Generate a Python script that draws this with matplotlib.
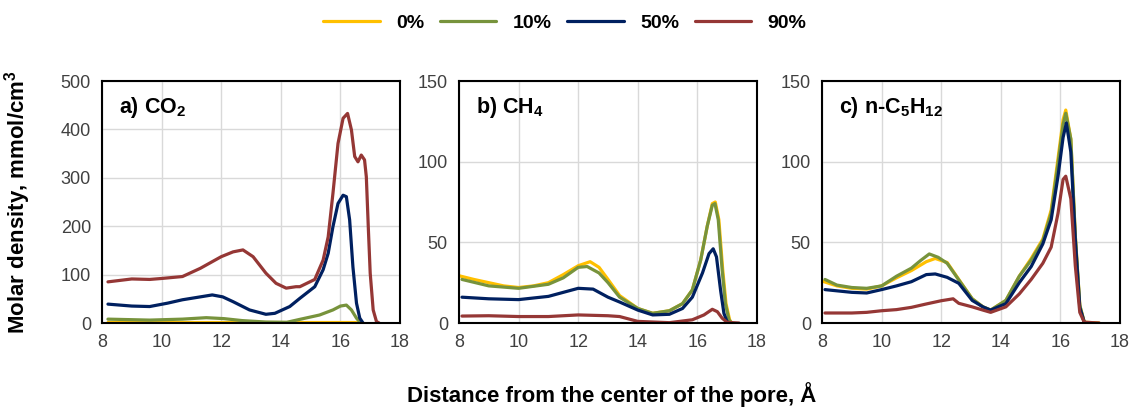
import numpy as np
import matplotlib
matplotlib.use("Agg")
import matplotlib.pyplot as plt

plt.rcParams['font.family'] = ['Liberation Sans', 'DejaVu Sans']
plt.rcParams['mathtext.fontset'] = 'custom'
plt.rcParams['mathtext.rm'] = 'Liberation Sans:bold'
plt.rcParams['mathtext.bf'] = 'Liberation Sans:bold'

# series labels and colours
labels = ['0%', '10%', '50%', '90%']
colors = ['#FFC000', '#77933C', '#002060', '#953735']

# a) CO2 density profiles (x in Angstrom, y in mmol/cm3)
co2_x0 = [8.2, 9, 10, 11, 12, 13, 14, 15, 15.5, 16, 16.3, 16.5, 16.6]
co2_y0 = [1, 1, 1, 1, 1, 1, 1, 1, 1, 1, 1, 1, 0]
co2_x10 = [8.2, 9.6, 10.7, 11.5, 12.1, 12.7, 13.5, 14.2, 14.6, 15.3, 15.75, 16.0, 16.2,
           16.37, 16.54, 16.68]
co2_y10 = [8, 6, 8, 11, 9, 5, 2, 1.4, 7, 16.5, 27, 35, 37, 27, 10, 0]
co2_x50 = [8.2, 9.0, 9.6, 10.2, 10.7, 11.3, 11.7, 12.05, 12.4, 12.95, 13.5, 13.8, 14.3,
           14.64, 15.14, 15.42, 15.59, 15.75, 15.92, 16.09, 16.2, 16.31, 16.42, 16.54,
           16.65, 16.76]
co2_y50 = [39, 35, 34, 41, 48, 54, 58, 54, 44, 27, 18, 20, 34,
           51, 75, 110, 144, 199, 247, 264, 261, 213, 116, 41, 10, 0]
co2_x90 = [8.2, 9.0, 9.6, 10.0, 10.7, 11.3, 12.0, 12.4, 12.73, 13.07, 13.5, 13.84, 14.18,
           14.51, 14.64, 15.14, 15.42, 15.59, 15.75, 15.92, 16.09, 16.24, 16.37, 16.48,
           16.59, 16.7, 16.81, 16.87, 16.94, 17.0, 17.1, 17.21, 17.3]
co2_y90 = [85, 91, 90, 92, 96, 113, 137, 147, 151, 137, 103, 82, 72,
           75, 75, 90, 130, 178, 268, 371, 423, 433, 399, 344,
           333, 347, 337, 302, 192, 103, 27, 3, 0]

# b) CH4 density profiles
ch4_x0 = [8.0, 8.5, 9, 9.5, 10, 10.5, 11, 11.5, 12, 12.4, 12.7, 13, 13.39, 14, 14.5, 15.06,
          15.5, 15.83, 16.11, 16.33, 16.5, 16.6, 16.72, 16.85, 16.96, 17.08, 17.15]
ch4_y0 = [29.3, 27, 25, 23, 22, 23, 25, 30, 35.5, 38, 34.5, 27, 17, 9, 6, 7.6,
          12, 20.5, 39, 60, 74, 75, 64, 33, 12, 2, 0]
ch4_x10 = [8.1, 9, 10, 11, 11.5, 12, 12.3, 12.7, 13, 13.39, 14, 14.5, 15.06, 15.5, 15.83,
           16.11, 16.33, 16.5, 16.59, 16.7, 16.83, 16.94, 17.06, 17.15]
ch4_y10 = [27, 23, 21.5, 24, 28, 34.5, 35, 31, 25, 16, 9, 6, 7.6, 12, 20.5,
           39, 60, 73, 74, 64, 33, 12, 2, 0]
ch4_x50 = [8.1, 9, 10, 11, 11.5, 12, 12.5, 13, 13.39, 14, 14.5, 15.06, 15.5, 15.83, 16.17,
           16.39, 16.53, 16.64, 16.78, 16.89, 17.0, 17.1]
ch4_y50 = [16, 15, 14.5, 16.5, 19, 21.5, 21, 16, 13, 8, 5, 5.4, 9, 16, 31,
           43, 46, 41, 20, 6, 0.6, 0]
ch4_x90 = [8.1, 9, 10, 11, 12, 13, 13.39, 14, 15.06, 15.83, 16.22, 16.5, 16.67, 16.83,
           17.0, 17.4]
ch4_y90 = [4.3, 4.5, 4, 4, 5, 4.5, 4, 1, 0.2, 2, 5, 8.5, 7, 3, 0.4, 0]

# c) n-C5H12 density profiles
c5_x0 = [8.0, 8.5, 9, 9.5, 10, 10.5, 11, 11.5, 11.8, 12.2, 12.59, 13.04, 13.4, 13.66, 14.17,
         14.62, 15.02, 15.41, 15.69, 15.92, 16.09, 16.18, 16.35, 16.5, 16.65, 16.8, 17.3]
c5_y0 = [26, 23, 21.5, 21, 23, 28, 32.5, 38, 40, 37.5, 27, 15, 10, 8, 14,
         29, 40, 52, 70, 102, 126, 132, 114, 54, 11, 0.5, 0]
c5_x10 = [8.1, 8.5, 9, 9.5, 10, 10.5, 11, 11.3, 11.6, 11.9, 12.2, 12.59, 13.04, 13.4, 13.66,
          14.17, 14.62, 15.02, 15.41, 15.69, 15.92, 16.09, 16.18, 16.35, 16.5, 16.65, 16.8]
c5_y10 = [27, 23.5, 22, 21.5, 23, 29, 34, 38.6, 42.8, 40.7, 37, 26.7, 15, 10, 8,
          14, 29, 39, 51, 68, 99, 123, 130, 114, 54, 11, 0.5]
c5_x50 = [8.1, 9, 9.5, 10, 10.5, 11, 11.5, 11.8, 12.2, 12.59, 13.04, 13.4, 13.66, 14.17,
          14.62, 15.02, 15.41, 15.69, 15.92, 16.09, 16.2, 16.35, 16.5, 16.65, 16.8]
c5_y50 = [20.7, 19, 18.6, 20.7, 23, 25.6, 30, 30.4, 28.3, 24.6, 14, 10, 8, 12,
          25, 35, 49, 64, 91, 115, 124, 106, 52, 9.7, 0.5]
c5_x90 = [8.1, 9, 9.5, 10, 10.5, 11, 11.5, 12, 12.4, 12.59, 13.04, 13.4, 13.66, 14.17,
          14.62, 15.02, 15.41, 15.69, 15.92, 16.09, 16.18, 16.35, 16.5, 16.65, 16.8, 17.3]
c5_y90 = [6.2, 6.2, 6.6, 7.6, 8.3, 9.7, 11.8, 13.8, 15, 12.2, 10, 8, 6.6, 10,
          18, 27, 37, 47, 68, 89, 91, 77, 35.5, 6.6, 0.5, 0]

panels = [
    ('a) CO$_{2}$', 500, 100,
     [(co2_x0, co2_y0), (co2_x10, co2_y10), (co2_x50, co2_y50), (co2_x90, co2_y90)]),
    ('b) CH$_{4}$', 150, 50,
     [(ch4_x0, ch4_y0), (ch4_x10, ch4_y10), (ch4_x50, ch4_y50), (ch4_x90, ch4_y90)]),
    ('c) n-C$_{5}$H$_{12}$', 150, 50,
     [(c5_x0, c5_y0), (c5_x10, c5_y10), (c5_x50, c5_y50), (c5_x90, c5_y90)]),
]

fig = plt.figure(figsize=(11.31, 4.08), dpi=100)
lefts = [102 / 1131, 459 / 1131, 822 / 1131]
width = 298 / 1131
bottom = (408 - 323) / 408
height = 242 / 408

handles = []
for i, (title, ymax, ystep, series) in enumerate(panels):
    ax = fig.add_axes([lefts[i], bottom, width, height])
    for (x, y), c, lab in zip(series, colors, labels):
        ln, = ax.plot(x, y, color=c, lw=2.3, label=lab,
                      solid_capstyle='round', solid_joinstyle='round')
        if i == 0:
            handles.append(ln)
    ax.set_xlim(8, 18)
    ax.set_ylim(0, ymax)
    ax.set_xticks(np.arange(8, 19, 2))
    ax.set_yticks(np.arange(0, ymax + 1, ystep))
    ax.grid(True, color='#D9D9D9', lw=1)
    ax.set_axisbelow(True)
    ax.tick_params(length=0, labelsize=13, colors='#404040', pad=8)
    for s in ax.spines.values():
        s.set_color('black')
        s.set_linewidth(1.5)
    ax.text(0.057, 0.89, title, transform=ax.transAxes, fontsize=15.5,
            fontweight='bold', va='center', ha='left')

fig.legend(handles, labels, loc='center', bbox_to_anchor=(565 / 1131, 1 - 23 / 408), ncol=4,
           frameon=False, handlelength=2.9, handletextpad=0.85, columnspacing=0.8,
           prop={'weight': 'bold', 'size': 14})

fig.text(612 / 1131, 1 - 395 / 408, 'Distance from the center of the pore, Å',
         ha='center', va='center', fontsize=16, fontweight='bold')
fig.text(18 / 1131, bottom + height / 2, 'Molar density, mmol/cm$^{3}$',
         rotation=90, ha='center', va='center', fontsize=16, fontweight='bold')

fig.savefig('out.png', dpi=100)
